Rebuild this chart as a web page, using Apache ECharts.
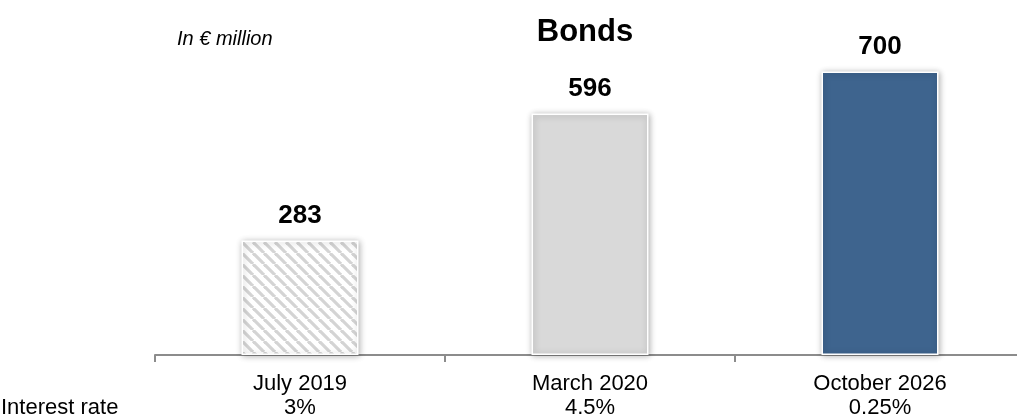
<!DOCTYPE html>
<html>
<head>
<meta charset="utf-8">
<script src="https://cdn.jsdelivr.net/npm/echarts@6/dist/echarts.min.js"></script>
<style>html,body{margin:0;padding:0;background:#fff;overflow:hidden;width:1017px;height:420px}#c{width:1025px;height:420px}</style>
</head>
<body>
<div id="c"></div>
<script>
const categories = ['July 2019', 'March 2020', 'October 2026'];
const rates = ['3%', '4.5%', '0.25%'];
const values = [283, 596, 700];
const titleText = 'Bonds';
const unitText = 'In € million';
const rowLabel = 'Interest rate';

function hatch() {
  const s = 11;
  const c = document.createElement('canvas');
  c.width = s; c.height = s;
  const g = c.getContext('2d');
  g.fillStyle = '#ffffff';
  g.fillRect(0, 0, s, s);
  g.strokeStyle = '#d4d4d4';
  g.lineWidth = 3.2;
  for (const x0 of [-s, 0, s]) {
    g.beginPath();
    g.moveTo(x0, 0);
    g.lineTo(x0 + s, s);
    g.stroke();
  }
  return c;
}

const fills = [{ image: hatch(), repeat: 'repeat' }, '#d9d9d9', '#3e648e'];
const font = 'Liberation Sans, Arial, sans-serif';

const chart = echarts.init(document.getElementById('c'), null, { renderer: 'canvas' });
chart.setOption({
  animation: false,
  backgroundColor: '#ffffff',
  grid: { left: 155, top: 31, right: 0, bottom: 65, containLabel: false },
  xAxis: {
    type: 'category',
    data: categories,
    axisLine: { lineStyle: { color: '#8c8c8c', width: 2 } },
    axisTick: { show: true, length: 7, lineStyle: { color: '#8c8c8c', width: 2 } },
    axisLabel: {
      margin: 17,
      fontFamily: font,
      fontSize: 22,
      lineHeight: 24,
      color: '#000',
      formatter: (v, i) => v + '\n' + rates[i]
    }
  },
  yAxis: { type: 'value', min: 0, max: 800, show: false, splitLine: { show: false } },
  series: [{
    type: 'bar',
    barWidth: 117,
    data: values.map((v, i) => ({
      value: v,
      itemStyle: { color: fills[i] }
    })),
    itemStyle: {
      borderColor: '#ffffff',
      borderWidth: 1.5,
      shadowBlur: 6,
      shadowColor: 'rgba(0,0,0,0.3)',
      shadowOffsetX: 1,
      shadowOffsetY: 1
    },
    label: {
      show: true,
      position: 'top',
      distance: 12,
      fontFamily: font,
      fontSize: 26,
      fontWeight: 'bold',
      color: '#000'
    }
  }],
  graphic: [
    { type: 'text', x: 585, y: 17, style: { text: titleText, align: 'center', font: 'bold 31px ' + font, fill: '#000' } },
    { type: 'text', x: 177, y: 29, style: { text: unitText, font: 'italic 20px ' + font, fill: '#000' } },
    { type: 'text', x: 1, y: 397, style: { text: rowLabel, font: '22px ' + font, fill: '#000' } }
  ]
});
</script>
</body>
</html>
